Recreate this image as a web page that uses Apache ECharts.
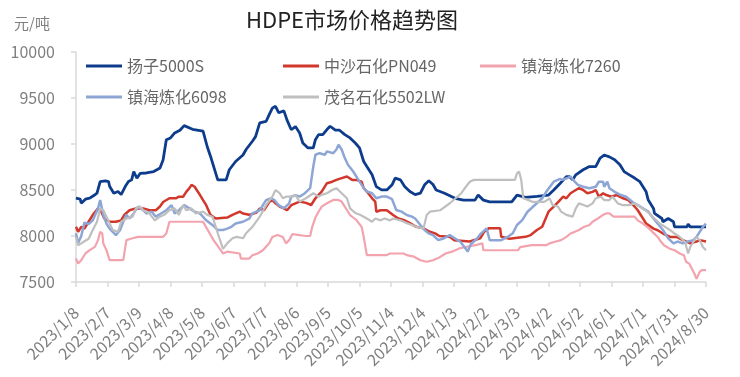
<!DOCTYPE html>
<html>
<head>
<meta charset="utf-8">
<script src="https://cdn.jsdelivr.net/npm/echarts@6/dist/echarts.min.js"></script>
<style>
  html, body { margin: 0; padding: 0; background: #fff; }
  #main { width: 740px; height: 377px; }
</style>
</head>
<body>
<div id="main"></div>
<script>
// x axis: days since 2023/1/8, one label every 30 days
var xLabels = ['2023/1/8', '2023/2/7', '2023/3/9', '2023/4/8', '2023/5/8', '2023/6/7', '2023/7/7',
  '2023/8/6', '2023/9/5', '2023/10/5', '2023/11/4', '2023/12/4', '2024/1/3', '2024/2/2', '2024/3/3',
  '2024/4/2', '2024/5/2', '2024/6/1', '2024/7/1', '2024/7/31', '2024/8/30'];

var seriesNames = ['扬子5000S', '中沙石化PN049', '镇海炼化7260', '镇海炼化6098', '茂名石化5502LW'];

// [day, 元/吨]
var yangzi = [[0,8411],[4,8400],[5,8356],[9,8400],[13,8411],[17,8440],[20,8465],[23,8592],[28,8600],[31,8592],[32,8540],[36,8465],[40,8483],[43,8450],[47,8540],[50,8592],[53,8610],[55,8701],[58,8628],[61,8680],[67,8685],[74,8701],[77,8720],[80,8740],[83,8830],[86,9047],[90,9066],[94,9120],[99,9150],[103,9200],[111,9160],[121,9140],[125,8970],[128,8870],[135,8610],[143,8610],[146,8720],[152,8810],[159,8880],[162,8940],[168,9030],[171,9080],[175,9230],[181,9245],[184,9320],[187,9390],[190,9410],[193,9340],[198,9360],[201,9260],[205,9155],[209,9190],[213,9120],[216,9011],[221,8957],[226,8957],[228,9047],[231,9102],[235,9102],[239,9157],[242,9193],[247,9150],[251,9150],[256,9102],[261,9066],[266,9011],[270,8957],[274,8810],[277,8756],[282,8665],[286,8537],[291,8501],[296,8501],[301,8556],[304,8629],[309,8610],[313,8537],[318,8483],[323,8450],[328,8465],[332,8556],[336,8600],[340,8560],[343,8500],[351,8465],[361,8410],[369,8390],[380,8390],[383,8445],[388,8390],[394,8370],[415,8370],[420,8445],[428,8420],[439,8430],[450,8445],[455,8500],[461,8570],[467,8645],[470,8645],[473,8610],[476,8665],[483,8720],[489,8755],[495,8755],[499,8845],[503,8880],[508,8860],[513,8830],[518,8775],[522,8700],[527,8665],[532,8630],[537,8590],[540,8535],[543,8480],[545,8390],[550,8300],[551,8245],[558,8190],[559,8155],[564,8190],[569,8155],[570,8100],[582,8100],[583,8130],[585,8100],[600,8100]];

var zhongsha = [[0,8100],[2,8045],[5,8100],[8,8080],[12,8155],[16,8230],[21,8300],[24,8265],[27,8190],[32,8155],[38,8155],[43,8170],[46,8230],[51,8280],[57,8300],[64,8300],[70,8280],[76,8280],[80,8320],[83,8370],[89,8410],[95,8410],[98,8427],[102,8427],[105,8480],[108,8520],[110,8555],[113,8535],[117,8465],[121,8390],[124,8335],[128,8230],[133,8190],[144,8200],[149,8230],[156,8265],[159,8245],[165,8230],[172,8255],[175,8300],[179,8280],[184,8370],[187,8390],[190,8355],[194,8320],[198,8300],[201,8280],[205,8335],[209,8355],[213,8374],[219,8360],[224,8337],[228,8410],[231,8447],[234,8483],[239,8574],[244,8590],[248,8610],[253,8629],[258,8647],[263,8610],[267,8610],[272,8590],[274,8520],[277,8483],[282,8410],[285,8374],[286,8264],[290,8280],[296,8280],[302,8228],[307,8190],[312,8174],[318,8140],[324,8100],[331,8083],[337,8046],[342,8028],[346,8000],[356,7991],[360,7955],[375,7940],[385,7975],[389,8050],[393,8083],[404,8083],[405,7991],[413,7970],[428,7991],[433,8010],[439,8065],[444,8100],[450,8264],[455,8319],[460,8380],[464,8428],[467,8410],[471,8465],[476,8500],[479,8520],[483,8500],[487,8465],[492,8480],[495,8500],[498,8427],[502,8465],[505,8445],[510,8427],[515,8445],[521,8410],[526,8390],[532,8320],[535,8280],[540,8190],[543,8135],[550,8080],[554,8063],[559,8027],[566,7990],[572,7990],[578,7955],[585,7920],[591,7940],[594,7955],[600,7940]];

var zhenhai7260 = [[0,7755],[2,7700],[5,7737],[9,7810],[13,7846],[18,7882],[21,7955],[23,8046],[25,8028],[26,7920],[29,7846],[31,7773],[32,7737],[45,7737],[47,7882],[48,7955],[53,7973],[59,7991],[83,7991],[86,8028],[89,8155],[121,8155],[131,7955],[140,7810],[144,7830],[156,7810],[157,7755],[165,7755],[168,7790],[173,7810],[178,7845],[184,7920],[187,7990],[192,8010],[197,7990],[200,7920],[203,7955],[206,8020],[219,8000],[223,8000],[225,8100],[228,8200],[231,8264],[234,8319],[239,8356],[245,8392],[250,8392],[253,8374],[256,8319],[261,8228],[267,8174],[272,8100],[274,7991],[277,7792],[296,7792],[299,7810],[312,7810],[315,7792],[322,7775],[328,7737],[334,7720],[340,7737],[345,7760],[352,7810],[358,7830],[365,7865],[371,7880],[380,7900],[387,7920],[388,7845],[421,7845],[423,7880],[434,7900],[448,7900],[451,7920],[457,7940],[462,7955],[467,7990],[471,8027],[475,8045],[479,8065],[484,8100],[489,8120],[492,8155],[497,8190],[502,8230],[505,8245],[508,8245],[512,8210],[532,8210],[535,8170],[540,8135],[544,8100],[549,8045],[554,7990],[557,7940],[560,7900],[565,7865],[570,7845],[575,7810],[579,7790],[581,7720],[584,7700],[589,7590],[591,7535],[594,7610],[596,7630],[600,7630]];

var zhenhai6098 = [[0,8030],[2,7920],[5,8000],[8,8145],[12,8130],[16,8170],[21,8300],[23,8390],[26,8230],[29,8135],[32,8080],[35,8045],[38,8010],[42,8065],[45,8155],[48,8230],[51,8190],[54,8230],[59,8320],[64,8280],[67,8245],[72,8265],[76,8210],[81,8245],[86,8280],[91,8335],[94,8245],[98,8280],[103,8335],[108,8300],[113,8265],[118,8245],[124,8170],[128,8135],[132,8100],[135,8065],[140,8065],[144,8080],[148,8100],[152,8135],[159,8155],[165,8190],[168,8245],[175,8280],[181,8390],[186,8410],[189,8390],[193,8335],[198,8300],[203,8355],[205,8427],[209,8445],[213,8428],[218,8465],[223,8520],[226,8756],[228,8883],[232,8900],[237,8883],[239,8920],[245,8900],[248,8940],[250,8993],[253,8940],[256,8847],[259,8775],[264,8701],[269,8610],[274,8520],[277,8483],[282,8465],[286,8410],[291,8428],[296,8428],[301,8400],[305,8283],[310,8265],[315,8228],[320,8210],[323,8190],[328,8119],[332,8065],[336,8028],[340,8010],[345,7955],[350,7973],[356,8009],[361,7973],[366,7937],[371,7864],[373,7830],[376,7910],[382,7973],[385,8020],[388,8050],[391,8083],[394,7955],[405,7955],[411,7990],[416,8030],[420,8120],[425,8173],[430,8264],[437,8337],[444,8410],[449,8500],[455,8590],[461,8620],[463,8610],[468,8630],[471,8645],[475,8590],[478,8555],[483,8535],[489,8520],[495,8535],[498,8590],[502,8590],[503,8535],[506,8590],[508,8520],[513,8480],[519,8445],[524,8427],[530,8370],[535,8335],[540,8300],[545,8265],[550,8190],[554,8135],[559,8065],[564,7975],[569,7920],[573,7940],[578,7920],[583,7940],[588,7955],[591,7990],[594,8045],[597,8100],[600,8135]];

var maoming = [[0,7990],[2,7900],[5,7920],[7,7935],[12,7970],[16,8065],[20,8155],[23,8300],[26,8280],[29,8210],[32,8135],[35,8065],[40,8045],[43,8155],[48,8190],[54,8210],[57,8300],[61,8320],[64,8280],[67,8265],[70,8245],[75,8170],[80,8210],[84,8230],[89,8280],[94,8300],[98,8230],[102,8335],[105,8280],[110,8300],[114,8245],[121,8265],[125,8230],[130,8210],[135,8030],[140,7860],[144,7920],[149,7975],[153,7990],[159,7975],[162,8030],[168,8100],[175,8210],[181,8335],[187,8427],[190,8500],[194,8465],[197,8410],[200,8427],[205,8427],[209,8445],[213,8374],[219,8410],[226,8465],[231,8428],[234,8447],[239,8465],[244,8500],[248,8520],[253,8465],[258,8410],[261,8301],[266,8250],[271,8228],[277,8190],[282,8155],[285,8190],[290,8170],[294,8190],[299,8170],[302,8190],[309,8170],[315,8140],[320,8120],[324,8100],[331,8083],[334,8228],[337,8264],[347,8280],[356,8356],[367,8465],[369,8500],[375,8590],[379,8610],[418,8610],[420,8680],[422,8700],[424,8610],[426,8410],[431,8390],[435,8370],[446,8370],[451,8410],[454,8335],[459,8320],[462,8265],[467,8230],[473,8210],[476,8300],[479,8355],[484,8335],[487,8320],[492,8355],[495,8410],[500,8427],[503,8390],[508,8390],[511,8427],[516,8355],[521,8335],[527,8335],[532,8355],[537,8320],[542,8280],[546,8245],[551,8190],[556,8135],[561,8100],[566,8063],[570,8027],[575,7990],[580,7935],[583,7810],[585,7880],[588,7935],[591,7990],[594,7955],[597,7880],[600,7845]];

var colors = ['#0e3c8c', '#d2372c', '#f2a3ad', '#8ea6d6', '#bfbfbf'];
var lineWidths = [2.8, 2.5, 2.2, 2.5, 2.2];
var allData = [yangzi, zhongsha, zhenhai7260, zhenhai6098, maoming];

// legend slots: column x / row y
var legendPos = [[86, 58], [283, 58], [480, 58], [86, 89], [283, 89]];

var fontFamily = '"Noto Sans CJK SC", "Noto Sans", sans-serif';

var chart = echarts.init(document.getElementById('main'), null, { renderer: 'canvas' });

var legends = [];
for (var i = 0; i < seriesNames.length; i++) {
  legends.push({
    data: [seriesNames[i]],
    left: legendPos[i][0],
    top: legendPos[i][1],
    icon: 'rect',
    itemWidth: 36,
    itemHeight: 3,
    itemGap: 0,
    padding: 0,
    textStyle: { color: '#666', fontSize: 16, fontFamily: fontFamily }
  });
}

var series = [];
for (var j = 0; j < seriesNames.length; j++) {
  series.push({
    name: seriesNames[j],
    type: 'line',
    data: allData[j],
    showSymbol: false,
    symbol: 'none',
    color: colors[j],
    lineStyle: { width: lineWidths[j], color: colors[j] },
    animation: false
  });
}

var option = {
  backgroundColor: '#fff',
  animation: false,
  title: [
    {
      text: 'HDPE市场价格趋势图',
      left: 241,
      top: 4,
      textStyle: { color: '#222', fontSize: 22, fontWeight: 'normal', fontFamily: fontFamily }
    },
    {
      text: '元/吨',
      left: 9,
      top: 11,
      textStyle: { color: '#7f7f7f', fontSize: 15, fontWeight: 'normal', fontFamily: fontFamily }
    }
  ],
  legend: legends,
  grid: { left: 76, right: 34, top: 52, bottom: 95, containLabel: false },
  xAxis: {
    type: 'value',
    min: 0,
    max: 600,
    interval: 30,
    splitLine: { show: false },
    axisLine: { show: true, lineStyle: { color: '#d9d9d9', width: 1.5 } },
    axisTick: { show: true, length: 5, lineStyle: { color: '#d9d9d9', width: 1.5 } },
    axisLabel: {
      rotate: 45,
      margin: 28,
      color: '#7f7f7f',
      fontSize: 16,
      fontFamily: fontFamily,
      showMaxLabel: true,
      showMinLabel: true,
      formatter: function (v) {
        return xLabels[Math.round(v / 30)];
      }
    }
  },
  yAxis: {
    type: 'value',
    min: 7500,
    max: 10000,
    interval: 500,
    splitLine: { show: false },
    axisLine: { show: true, lineStyle: { color: '#d9d9d9', width: 1.5 } },
    axisTick: { show: true, length: 5, lineStyle: { color: '#d9d9d9', width: 1.5 } },
    axisLabel: {
      margin: 21,
      color: '#7f7f7f',
      fontSize: 16,
      fontFamily: fontFamily,
      formatter: function (v) { return String(v); }
    }
  },
  series: series
};

chart.setOption(option);
</script>
</body>
</html>
